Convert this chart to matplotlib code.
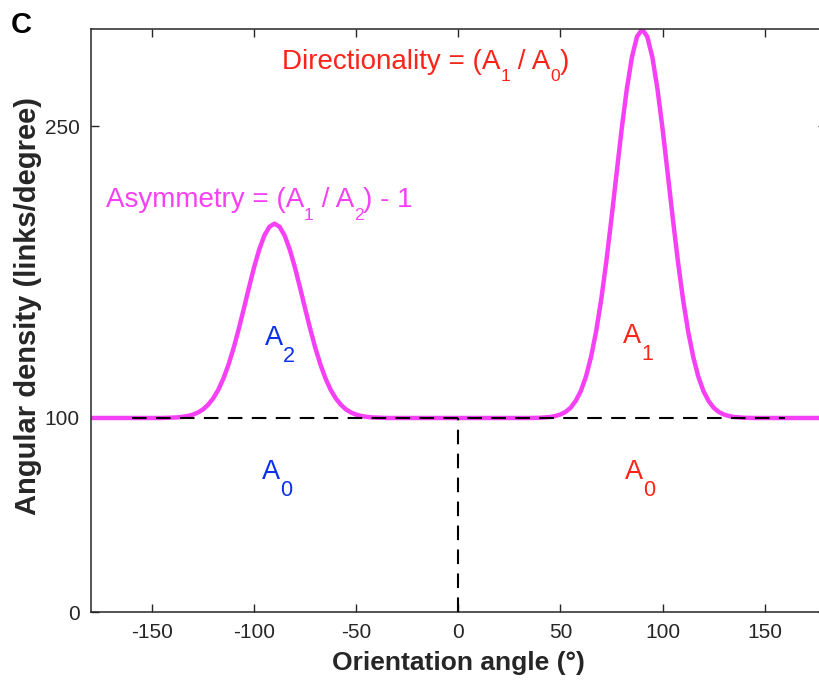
import matplotlib
matplotlib.use("Agg")
import matplotlib.pyplot as plt
from matplotlib.transforms import offset_copy

plt.rcParams['font.family'] = ['Liberation Sans', 'DejaVu Sans']

# ---- data ----
angles = [-180, -175, -170, -165, -160, -155, -150, -145,
          -140, -137.5, -135, -132.5, -130, -127.5, -125, -122.5, -120, -117.5,
          -115, -112.5, -110, -107.5, -105, -102.5, -100, -97.5, -95, -92.5, -90,
          -87.5, -85, -82.5, -80, -77.5, -75, -72.5, -70, -67.5, -65, -62.5, -60,
          -57.5, -55, -52.5, -50, -47.5, -45, -42.5, -40,
          -35, -30, -25, -20, -15, -10, -5, 0, 5, 10, 15, 20, 25, 30, 35,
          40, 42.5, 45, 47.5, 50, 52.5, 55, 57.5, 60, 62.5, 65, 67.5, 70, 72.5,
          75, 77.5, 80, 82.5, 85, 87.5, 90, 92.5, 95, 97.5, 100, 102.5, 105,
          107.5, 110, 112.5, 115, 117.5, 120, 122.5, 125, 127.5, 130, 132.5,
          135, 137.5, 140,
          145, 150, 155, 160, 165, 170, 175, 180]
density = [100, 100, 100, 100, 100, 100, 100, 100,
           100.2, 100.3, 100.6, 101.0, 101.7, 102.8, 104.4, 106.8, 110.1, 114.5,
           120.3, 127.5, 136.0, 145.8, 156.3, 167.1, 177.5, 186.6, 193.8, 198.4, 200,
           198.4, 193.8, 186.6, 177.5, 167.1, 156.3, 145.8, 136.0, 127.5, 120.3, 114.5, 110.1,
           106.8, 104.4, 102.8, 101.7, 101.0, 100.6, 100.3, 100.2,
           100, 100, 100, 100, 100, 100, 100, 100, 100, 100, 100, 100, 100, 100, 100,
           100.1, 100.3, 100.5, 101.0, 101.8, 103.1, 105.3, 108.8, 113.9, 121.3, 131.5, 144.7, 161.2, 180.8,
           202.8, 226.0, 248.8, 269.3, 285.7, 296.3, 300, 296.3, 285.7, 269.3, 248.8, 226.0, 202.8,
           180.8, 161.2, 144.7, 131.5, 121.3, 113.9, 108.8, 105.3, 103.1, 101.8, 101.0,
           100.5, 100.3, 100.1,
           100, 100, 100, 100, 100, 100, 100, 100]
baseline_x = [-160, 160]
baseline_y = [100, 100]
split_x = [0, 0]
split_y = [0, 100]
xticks = [-150, -100, -50, 0, 50, 100, 150]
yticks = [0, 100, 250]

MAGENTA = '#f640f6'
RED = '#fb2418'
BLUE = '#0a30e8'
DARK = '#262626'

fig = plt.figure(figsize=(8.19, 6.82), dpi=100)
ax = fig.add_axes([0.1107, 0.1022, 0.8978, 0.8548])

ax.plot(angles, density, color=MAGENTA, lw=3.2, solid_joinstyle='round', zorder=2)
ax.plot(baseline_x, baseline_y, color='black', lw=1.5, dashes=(7, 4.5), zorder=3)
ax.plot(split_x, split_y, color='black', lw=1.5, dashes=(7, 4.5), zorder=3)

ax.set_xlim(-180, 180)
ax.set_ylim(0, 300)
ax.set_xticks(xticks)
ax.set_yticks(yticks)
ax.set_xticklabels([str(v) for v in xticks])
ax.tick_params(direction='in', top=True, right=True, length=6, width=1,
               color=DARK, labelcolor=DARK, labelsize=15, pad=8)
for s in ax.spines.values():
    s.set_color(DARK)
    s.set_linewidth(1.1)

ax.set_xlabel('Orientation angle (°)', fontsize=19, fontweight='bold', color=DARK, labelpad=6)
ax.set_ylabel('Angular density (links/degree)', fontsize=21, fontweight='bold', color=DARK)
ax.yaxis.set_label_coords(-0.066, 0.525)

renderer = fig.canvas.get_renderer()


def width_px(s, size):
    t1 = fig.text(0, 0, '|' + s + '|', fontsize=size)
    w1 = t1.get_window_extent(renderer).width
    t1.remove()
    t2 = fig.text(0, 0, '||', fontsize=size)
    w2 = t2.get_window_extent(renderer).width
    t2.remove()
    return w1 - w2


def rich_text(x, y, pieces, color, main, sub, drop):
    """pieces: list of (string, is_subscript); centred at (x, y) baseline."""
    widths = [width_px(s, sub if is_sub else main) for s, is_sub in pieces]
    off = -sum(widths) / 2
    for (s, is_sub), w in zip(pieces, widths):
        tr = offset_copy(ax.transData, fig=fig, x=off, y=-drop if is_sub else 0, units='dots')
        ax.text(x, y, s, transform=tr, color=color, fontsize=sub if is_sub else main,
                ha='left', va='baseline')
        off += w


rich_text(-15.9, 279.5, [('Directionality = (A', False), ('1', True), (' / A', False),
                         ('0', True), (')', False)], RED, 20, 12.5, 12)
rich_text(-97.4, 208.8, [('Asymmetry = (A', False), ('1', True), (' / A', False),
                         ('2', True), (') - 1', False)], MAGENTA, 20, 12.5, 13)

rich_text(-87.4, 137.8, [('A', False), ('2', True)], BLUE, 19.5, 15.5, 17)
rich_text(88.1, 138.7, [('A', False), ('1', True)], RED, 19.5, 15.5, 17)
rich_text(-88.8, 68.5, [('A', False), ('0', True)], BLUE, 19.5, 15.5, 17)
rich_text(89.0, 68.7, [('A', False), ('0', True)], RED, 19.5, 15.5, 17)

fig.text(11 / 819, 1 - 33 / 682, 'C', fontsize=21, fontweight='bold', color='black',
         ha='left', va='baseline')

fig.savefig('out.png', dpi=100)
